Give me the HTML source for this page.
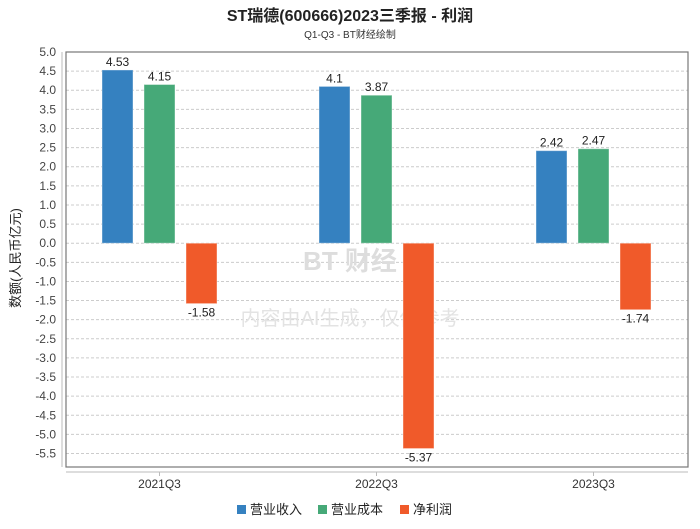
<!DOCTYPE html>
<html><head><meta charset="utf-8"><style>
body{margin:0;background:#fff;width:700px;height:524px;overflow:hidden;font-family:"Liberation Sans","Noto Sans CJK SC",sans-serif}
</style></head><body>
<svg width="700" height="524" font-family="Liberation Sans, Noto Sans CJK SC, sans-serif">
<text x="350" y="21" text-anchor="middle" font-size="16" font-weight="bold" fill="#222">ST瑞德(600666)2023三季报 - 利润</text>
<text x="350" y="38" text-anchor="middle" font-size="10" fill="#333">Q1-Q3 - BT财经绘制</text>
<text transform="translate(20,258) rotate(-90)" text-anchor="middle" font-size="13" fill="#222">数额(人民币亿元)</text>
<g id="grid"></g>
<rect x="66" y="52" width="622" height="415" fill="none" stroke="#777" stroke-width="1.2"/>
<line x1="62" y1="52" x2="62" y2="467" stroke="#bbb"/>
<line x1="66" y1="472" x2="688" y2="472" stroke="#bbb"/>
<text x="350" y="270" text-anchor="middle" font-size="26" font-weight="bold" fill="#ddd">BT 财经</text>
<text x="350" y="325" text-anchor="middle" font-size="20" fill="#e3e3e3">内容由AI生成，仅供参考</text>
<g id="bars"></g>
<g id="legend"></g>
</svg>
<script>
const categories=["2021Q3","2022Q3","2023Q3"];
const seriesNames=["营业收入","营业成本","净利润"];
const revenue=[4.53,4.1,2.42];
const cost=[4.15,3.87,2.47];
const profit=[-1.58,-5.37,-1.74];
const yTicks=[5.0,4.5,4.0,3.5,3.0,2.5,2.0,1.5,1.0,0.5,0.0,-0.5,-1.0,-1.5,-2.0,-2.5,-3.0,-3.5,-4.0,-4.5,-5.0,-5.5];
const colors=["#3581c0","#46a978","#f05a2a"];
const NS="http://www.w3.org/2000/svg";
const y=v=>52+(5-v)*38.24;
const xc=i=>159.5+i*217;
function mk(t,a,p){const e=document.createElementNS(NS,t);for(const k in a)e.setAttribute(k,a[k]);p.appendChild(e);return e;}
const grid=document.getElementById('grid');
yTicks.forEach(t=>{
  if(t<5){const l=mk('line',{x1:66,x2:688,y1:y(t),y2:y(t),stroke:'#ccc','stroke-dasharray':'3,2'},grid);
  
  }
  const tx=mk('text',{x:56,y:y(t)+4,'text-anchor':'end','font-size':12,fill:'#444'},grid);
  tx.textContent=t.toFixed(1);
  
  
});
const bars=document.getElementById('bars');
const all=[revenue,cost,profit];
categories.forEach((c,i)=>{
  const tk=mk('line',{x1:xc(i),x2:xc(i),y1:472,y2:476,stroke:'#bbb'},bars);
  
  
  const lb=mk('text',{x:xc(i),y:488,'text-anchor':'middle','font-size':12,fill:'#333'},bars);
  lb.textContent=c;
  
  
  all.forEach((s,j)=>{
    const v=s[i],x=xc(i)-57.5+j*42;
    const top=Math.min(y(v),y(0)),h=Math.abs(y(v)-y(0));
    const r=mk('rect',{x:x,y:top,width:31,height:h,fill:colors[j],stroke:'#fff','stroke-opacity':0.4},bars);
    
    
    const t=mk('text',{x:x+15.5,y:v>=0?y(v)-4:y(v)+13,'text-anchor':'middle','font-size':12,fill:'#222'},bars);
    t.textContent=String(v);
    
    
  });
});
const lg=document.getElementById('legend');
const lx=[237,318,400];
seriesNames.forEach((n,j)=>{
  const r=mk('rect',{x:lx[j],y:505,width:9,height:9,fill:colors[j]},lg);
  
  
  const t=mk('text',{x:lx[j]+13,y:514,'font-size':13,fill:'#222'},lg);
  t.textContent=n;
  
  
});
</script>
</body></html>
